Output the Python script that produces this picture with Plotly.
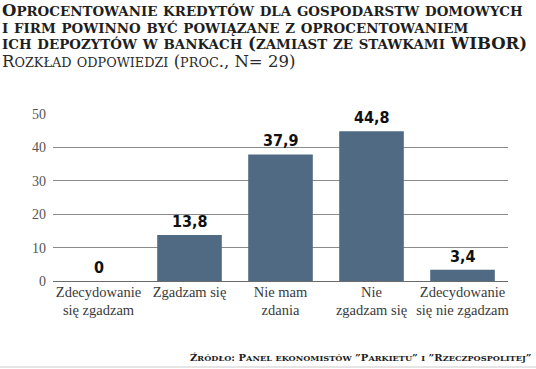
import plotly.graph_objects as go

categories = ["Zdecydowanie<br>się zgadzam", "Zgadzam się", "Nie mam<br>zdania",
              "Nie<br>zgadzam się", "Zdecydowanie<br>się nie zgadzam"]
values = [0, 13.8, 37.9, 44.8, 3.4]
value_labels = ["0", "13,8", "37,9", "44,8", "3,4"]
y_ticks = [0, 10, 20, 30, 40, 50]

W, H = 536, 369
L, R, T, B = 53, 28, 114, 88
PW, PH = W - L - R, H - T - B


def px_x(p):
    return (p - L) / PW


def px_y(p):
    return (H - B - p) / PH


def small_caps(text, big, small):
    out = []
    for ch in text:
        if ch.isalpha() and ch.islower():
            out.append(f'<span style="font-size:{small}px">{ch.upper()}</span>')
        else:
            out.append(f'<span style="font-size:{big}px">{ch}</span>')
    return "".join(out)


BAR = "#506a84"

fig = go.Figure()
fig.add_trace(go.Bar(
    x=categories, y=values, marker=dict(color=BAR, line=dict(width=0)),
    width=0.71, hoverinfo="skip",
))

for c, v, t in zip(categories, values, value_labels):
    fig.add_annotation(x=c, y=v, text=f"<b>{t}</b>", showarrow=False,
                       yanchor="bottom", yshift=2,
                       font=dict(family="DejaVu Sans Condensed", size=16, color="#111"))

title_lines = [
    "Oprocentowanie kredytów dla gospodarstw domowych",
    "i firm powinno być powiązane z oprocentowaniem",
    "ich depozytów w bankach (zamiast ze stawkami WIBOR)",
]
subtitle = "Rozkład odpowiedzi (proc., N= 29)"

title_html = "<br>".join("<b>" + small_caps(t, 16.5, 13.4) + "</b>" for t in title_lines)

fig.add_annotation(xref="paper", yref="paper", x=px_x(0), y=px_y(26.5),
                   xanchor="left", yanchor="middle", align="left", showarrow=False,
                   text=title_html,
                   font=dict(family="DejaVu Serif", size=12.8, color="#1e1e1e"))

fig.add_annotation(xref="paper", yref="paper", x=px_x(0), y=px_y(61),
                   xanchor="left", yanchor="middle", align="left", showarrow=False,
                   text=small_caps(subtitle, 16.5, 12.8),
                   font=dict(family="DejaVu Serif", size=12.8, color="#2a2a2a"))

fig.add_annotation(xref="paper", yref="paper", x=px_x(534), y=px_y(357),
                   xanchor="right", yanchor="middle", showarrow=False,
                   text="<b>" + small_caps("Źródło: Panel ekonomistów ”Parkietu” i ”Rzeczpospolitej”", 10, 8.2) + "</b>",
                   font=dict(family="DejaVu Serif", size=10, color="#1e1e1e"))

fig.add_shape(type="line", xref="paper", yref="paper", x0=px_x(0), x1=px_x(536),
              y0=px_y(367), y1=px_y(367), line=dict(color="#cccccc", width=1))

fig.update_layout(
    width=W, height=H, margin=dict(l=L, r=R, t=T, b=B),
    paper_bgcolor="white", plot_bgcolor="white", showlegend=False,
    xaxis=dict(showgrid=False, showline=False, ticks="",
               tickfont=dict(family="Liberation Sans Narrow", size=14.5, color="#3a3a3a")),
    yaxis=dict(range=[0, 50], tickvals=y_ticks, showgrid=True, gridcolor="#8a8a8a",
               gridwidth=1, zeroline=True, zerolinecolor="#6a6a6a", zerolinewidth=1,
               showline=False, ticks="", ticklabelstandoff=6,
               tickfont=dict(family="Liberation Sans Narrow", size=14, color="#555555")),
)

fig.write_html("out.html", config={"displayModeBar": False},
               post_script="document.body.style.margin='0';document.body.style.overflow='hidden';")
